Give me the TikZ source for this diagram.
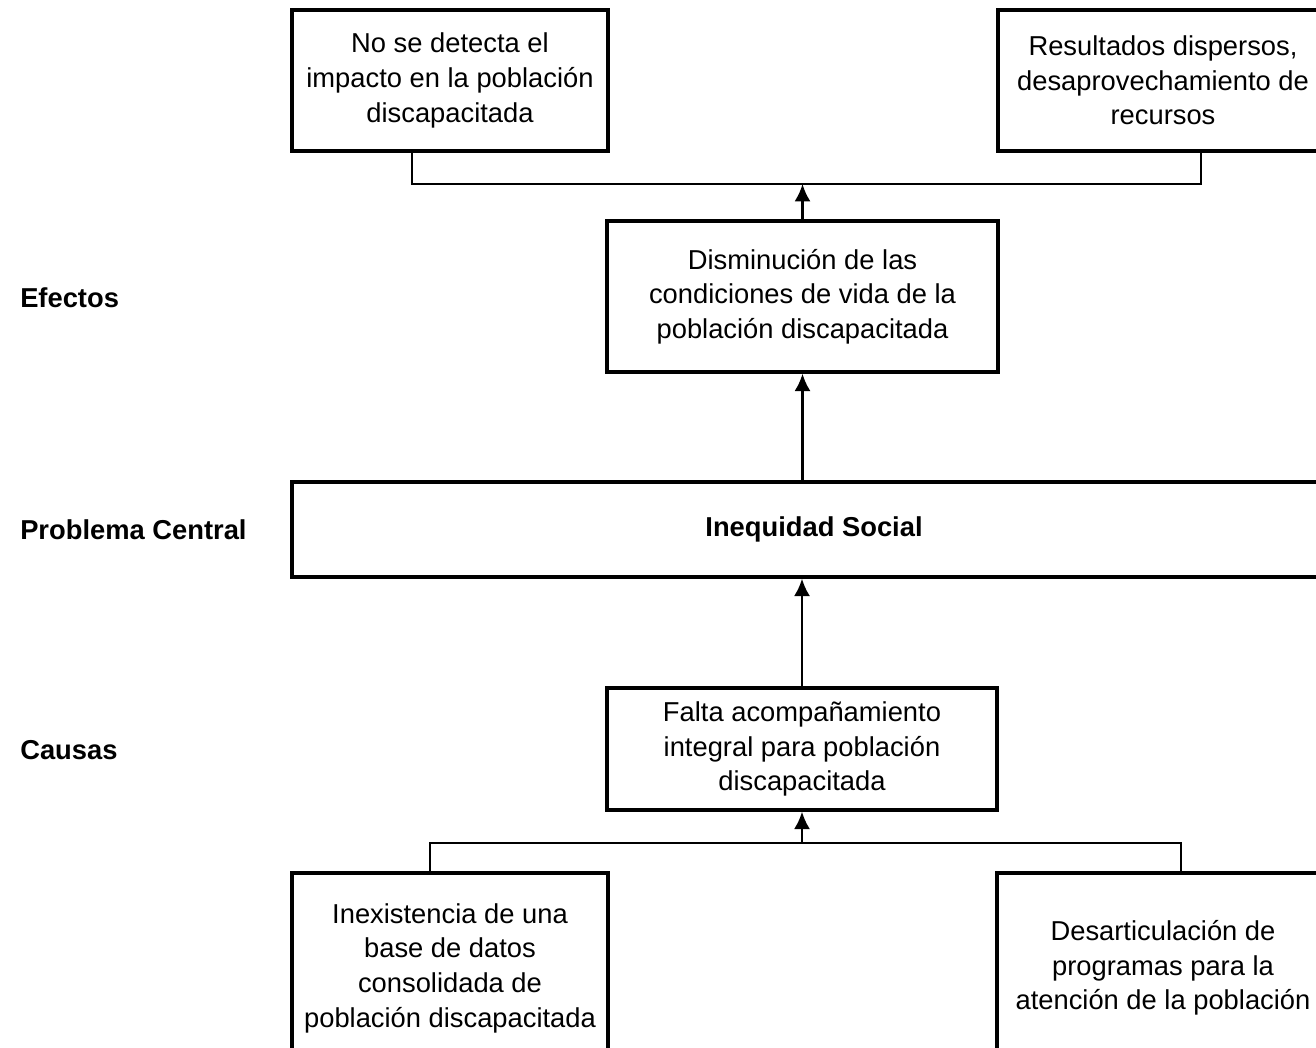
\documentclass[tikz,border=0pt]{standalone}
\usepackage{fontspec}
\setmainfont{Liberation Sans}
\usetikzlibrary{arrows.meta}
\tikzset{>={Latex[length=13pt,width=12pt]}}

\begin{document}
\begin{tikzpicture}[x=0.75pt,y=-0.75pt,
	caja/.style={draw, line width=2.5pt, align=center, inner sep=0pt,
		font=\fontsize{20.5}{26}\selectfont},
	conn/.style={line width=1.8pt},
	etiqueta/.style={anchor=west, inner sep=0pt, font=\fontsize{20.5}{26}\selectfont\bfseries}]
\useasboundingbox (0,0) rectangle (1316,1047);
\clip (0,0) rectangle (1316,1047);

% efectos
\node[caja, minimum width=237pt, minimum height=105.75pt] (noimpacto) at (450,80.5)
	{No se detecta el\\impacto en la población\\discapacitada};
\node[caja, minimum width=247.5pt, minimum height=105.75pt] (recursos) at (1163,80.5)
	{Resultados dispersos,\\desaprovechamiento de\\recursos};
\node[caja, minimum width=293.25pt, minimum height=113.25pt] (disminucion) at (802.5,296.5)
	{Disminución de las\\condiciones de  vida de la\\población discapacitada};

% problema central
\node[caja, minimum width=783pt, minimum height=71.25pt, font=\fontsize{20.5}{26}\selectfont\bfseries] (inequidad) at (814,529.5)
	{Inequidad Social};

% causas
\node[caja, minimum width=292.5pt, minimum height=91.5pt] (falta) at (802,749)
	{Falta acompañamiento\\integral para población\\discapacitada};
\node[caja, minimum width=237pt, minimum height=142.5pt] (basedatos) at (450,968)
	{Inexistencia de una\\base de datos\\consolidada de\\población discapacitada};
\node[caja, minimum width=249pt, minimum height=142.5pt] (programas) at (1163,968)
	{Desarticulación de\\programas para la\\atención de la población};

\node[etiqueta] (efectos) at (20,298) {Efectos};
\node[etiqueta] (central) at (20,530) {Problema Central};
\node[etiqueta] (causas) at (20,750) {Causas};

\coordinate (efL) at (412,184);
\coordinate (efR) at (1201,184);
\coordinate (caL) at (430,843);
\coordinate (caR) at (1181,843);

\draw[conn] (efL |- noimpacto.south) -- (efL) -- (efR) -- (efR |- recursos.south);
\draw[conn][->] (disminucion.north) -- (disminucion.north |- efL);
\draw[conn][->] (disminucion.south |- inequidad.north) -- (disminucion.south);
\draw[conn][->] (falta.north) -- (falta.north |- inequidad.south);
\draw[conn] (caL |- basedatos.north) -- (caL) -- (caR) -- (caR |- programas.north);
\draw[conn][->] (falta.south |- caL) -- (falta.south);
\end{tikzpicture}
\end{document}
